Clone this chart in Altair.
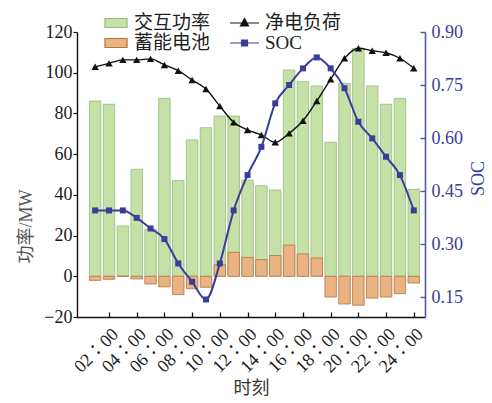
import altair as alt
import pandas as pd

# Hourly dispatch results (hour 1..24)
hours = list(range(1, 25))
exchange_power = [86.1, 84.5, 24.7, 52.6, 23.2, 87.4, 47.0, 67.0, 73.0, 78.7, 78.7, 47.3,
                  44.5, 42.4, 101.3, 95.6, 93.5, 65.8, 94.8, 112.0, 93.5, 84.5, 87.4, 42.7]
battery_power = [-2.0, -1.5, 0.0, -1.3, -3.8, -5.2, -9.0, -6.1, -5.4, 5.7, 11.8, 9.3,
                 8.2, 10.2, 15.3, 11.0, 9.0, -10.2, -13.6, -14.2, -10.7, -10.2, -8.5, -3.3]
net_load = [102.9, 104.6, 106.3, 106.3, 106.8, 103.8, 101.0, 96.4, 92.0, 83.6, 75.6, 71.9,
            69.4, 65.8, 70.2, 76.4, 86.1, 96.8, 107.1, 112.0, 110.8, 109.8, 107.1, 102.2]
soc = [0.395, 0.395, 0.395, 0.374, 0.344, 0.314, 0.245, 0.193, 0.143, 0.245, 0.395, 0.495,
       0.575, 0.698, 0.750, 0.797, 0.828, 0.797, 0.741, 0.646, 0.599, 0.547, 0.495, 0.395]

# legend entries, listed column by column
series_names = ["交互功率", "蓄能电池", "净电负荷", "SOC"]
left_ticks = [-20, 0, 20, 40, 60, 80, 100, 120]
soc_ticks = [0.15, 0.30, 0.45, 0.60, 0.75, 0.90]
hour_ticks = list(range(2, 25, 2))

GREEN, GREEN_EDGE = "#c6e1a7", "#98bb7e"
ORANGE, BROWN = "#eab382", "#b07540"
BLUE = "#3a3d9a"
AXIS_BLUE = "#5558a8"
SERIF = "'Liberation Serif', 'Noto Sans CJK SC', serif"
CJK = "'Noto Sans CJK SC', sans-serif"

df = pd.DataFrame({
    "hour": hours,
    "exchange": exchange_power,
    "battery": battery_power,
    "net": net_load,
    "soc": soc,
})

x_scale = alt.Scale(domain=[0.05, 24.45], nice=False, zero=False)

# main time axis: line, labels and title
x_main_axis = alt.Axis(
    orient="bottom", values=hour_ticks,
    labelExpr="(datum.value < 10 ? '0' : '') + datum.value + '∶00'",
    labelAngle=-45, labelAlign="right", labelBaseline="top", labelOverlap=False,
    labelFont=SERIF, labelFontSize=18, labelColor="#1a1a1a", labelPadding=8,
    ticks=False, domainColor="#111", domainWidth=1.4, grid=False,
    title="时刻", titleFont=CJK, titleFontSize=18, titleFontWeight="normal",
    titleColor="#333", titleY=71, titleBaseline="middle",
)
# inward-pointing tick marks for the time axis
x_tick_axis = alt.Axis(
    orient="bottom", values=hour_ticks, offset=-5, domain=False, labels=False, grid=False,
    ticks=True, tickSize=5, tickColor="#111", tickWidth=1.3, title=None,
)

left_scale = alt.Scale(domain=[-20, 120], nice=False, zero=False)
left_axis = alt.Axis(
    values=left_ticks, labelFont=SERIF, labelFontSize=18, labelColor="#1a1a1a",
    labelPadding=1, tickSize=4, tickColor="#111", tickWidth=1.2,
    domainColor="#111", domainWidth=1.4, grid=False,
    title="功率/MW", titleFont=SERIF, titleFontSize=18, titleFontWeight="normal",
    titleColor="#555", titleX=-51, titleY=194, titleBaseline="middle",
)

base = alt.Chart(df).encode(x=alt.X("hour:Q", scale=x_scale, axis=x_main_axis))

exchange_bars = base.mark_bar(size=11.5, fill=GREEN, stroke=GREEN_EDGE, strokeWidth=0.8).encode(
    y=alt.Y("exchange:Q", scale=left_scale, axis=left_axis)
)
battery_bars = base.mark_bar(size=11.5, fill=ORANGE, stroke=BROWN, strokeWidth=0.8).encode(
    y=alt.Y("battery:Q", scale=left_scale, axis=left_axis)
)
net_line = base.mark_line(color="#111", strokeWidth=1.4, interpolate="monotone").encode(
    y=alt.Y("net:Q", scale=left_scale, axis=left_axis)
)
net_points = base.mark_point(shape="triangle-up", filled=True, size=55, color="#111", opacity=1).encode(
    y=alt.Y("net:Q", scale=left_scale, axis=left_axis)
)

# Legend: one merged legend (fill + stroke + shape) from an empty point layer
legend_spec = alt.Legend(
    title=None, orient="none", legendX=33, legendY=-19, columns=2, columnPadding=16,
    rowPadding=0, symbolSize=324, symbolStrokeWidth=1.2, labelFont=SERIF,
    labelFontSize=19, labelColor="#222", labelOffset=4, padding=0,
)
rect_path = "M-1.667,-0.5H0.778V0.5H-1.667Z"
legend_shapes = [
    rect_path,
    rect_path,
    "M-2.333,0H0.889M-0.722,-0.5L-0.278,0.333L-1.167,0.333Z",
    "M-2.333,0H0.889M-1.056,-0.333H-0.389V0.333H-1.056Z",
]
legend_fills = [GREEN, ORANGE, "#111", BLUE]
legend_strokes = [GREEN_EDGE, BROWN, "#111", BLUE]

legend_df = pd.DataFrame({"series": series_names})
legend_layer = alt.Chart(legend_df).mark_point(filled=True, opacity=1).encode(
    fill=alt.Fill("series:N", scale=alt.Scale(domain=series_names, range=legend_fills), legend=legend_spec),
    stroke=alt.Stroke("series:N", scale=alt.Scale(domain=series_names, range=legend_strokes), legend=legend_spec),
    shape=alt.Shape("series:N", scale=alt.Scale(domain=series_names, range=legend_shapes), legend=legend_spec),
).transform_filter("false")

left = alt.layer(exchange_bars, battery_bars, net_line, net_points, legend_layer)

soc_scale = alt.Scale(domain=[0.0934, 0.90], nice=False, zero=False)
soc_axis = alt.Axis(
    orient="right", values=soc_ticks, format=".2f",
    labelFont=SERIF, labelFontSize=18, labelColor=BLUE, labelPadding=6,
    ticks=False, domainColor=AXIS_BLUE, domainWidth=1.6, grid=False,
    title="SOC", titleFont=SERIF, titleFontSize=18, titleFontWeight="normal",
    titleColor=BLUE, titleAngle=270, titleX=53, titleY=146, titleBaseline="middle",
)
soc_tick_axis = alt.Axis(
    orient="right", values=soc_ticks, offset=-5, domain=False, labels=False, grid=False,
    ticks=True, tickSize=5, tickColor=AXIS_BLUE, tickWidth=1.4, title=None,
)

soc_base = alt.Chart(df).encode(x=alt.X("hour:Q", scale=x_scale, axis=x_tick_axis))
soc_line = soc_base.mark_line(color=BLUE, strokeWidth=2, interpolate="monotone").encode(
    y=alt.Y("soc:Q", scale=soc_scale, axis=soc_axis)
)
soc_points = soc_base.mark_square(size=36, color=BLUE, opacity=1).encode(
    y=alt.Y("soc:Q", scale=soc_scale, axis=soc_tick_axis)
)
right = alt.layer(soc_line, soc_points).resolve_axis(y="independent")

chart = alt.layer(left, right).resolve_scale(y="independent").resolve_axis(x="independent").properties(
    width=348, height=285,
    padding={"left": 77, "top": 32, "right": 67, "bottom": 86},
    autosize=alt.AutoSizeParams(type="none"),
    background="white",
).configure_view(strokeWidth=0).configure_legend(labelFont=SERIF, labelFontSize=19)

chart.save("out.html", embed_options={"renderer": "svg", "actions": False})
